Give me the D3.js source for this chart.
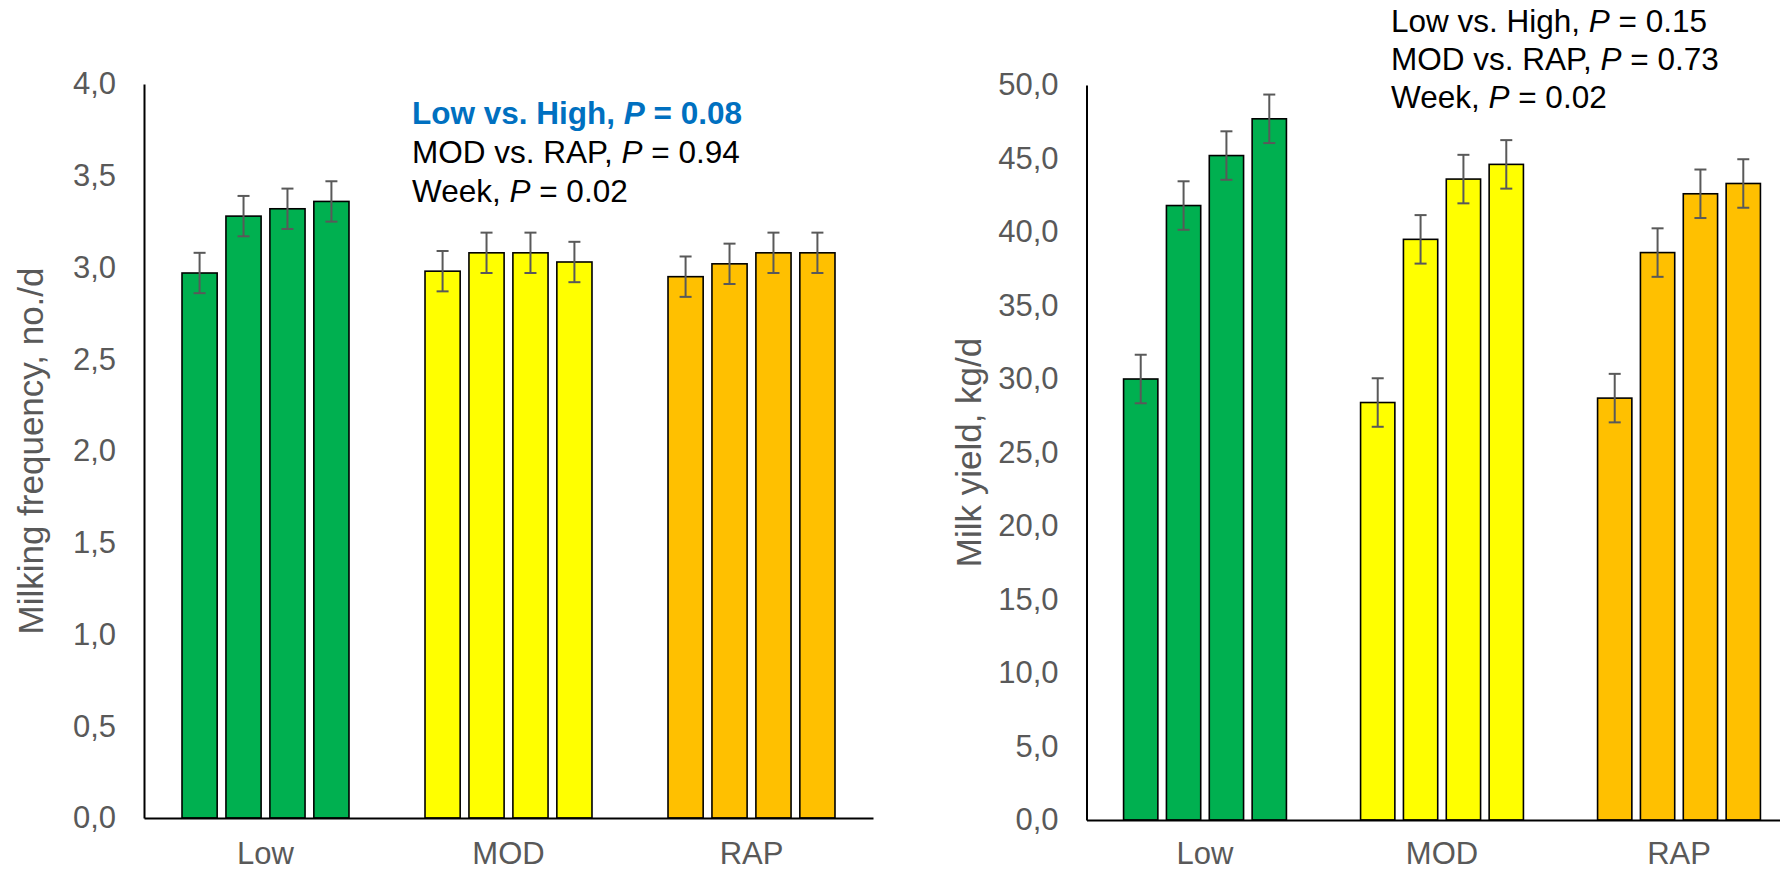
<!DOCTYPE html>
<html>
<head>
<meta charset="utf-8">
<script src="https://cdn.jsdelivr.net/npm/d3@7"></script>
<style>
  html, body { margin: 0; padding: 0; background: #fff; }
  svg { display: block; font-family: "Liberation Sans", Arial, sans-serif; }
</style>
</head>
<body>
<svg id="chart" width="1780" height="872"></svg>
<script>
// Treatment groups along the x axis
const categories = ["Low", "MOD", "RAP"];
const weekIdx = [0, 1, 2, 3];
const groupColors = ["#00B050", "#FFFF00", "#FFC000"];

// Milking frequency (no./d), weeks 1-4 per group
const freqLow = [2.97, 3.28, 3.32, 3.36];
const freqMOD = [2.98, 3.08, 3.08, 3.03];
const freqRAP = [2.95, 3.02, 3.08, 3.08];
const freqSE  = [0.11, 0.11, 0.11, 0.11];
const freqTicks = [0, 0.5, 1, 1.5, 2, 2.5, 3, 3.5, 4];

// Milk yield (kg/d), weeks 1-4 per group
const yieldLow = [30.0, 41.8, 45.2, 47.7];
const yieldMOD = [28.4, 39.5, 43.6, 44.6];
const yieldRAP = [28.7, 38.6, 42.6, 43.3];
const yieldSE  = [1.65, 1.65, 1.65, 1.65];
const yieldTicks = [0, 5, 10, 15, 20, 25, 30, 35, 40, 45, 50];

// Statistical contrasts printed above each panel
const freqStats = [
  { label: "Low vs. High, ", p: "0.08", bold: true, color: "#0070C0" },
  { label: "MOD vs. RAP, ", p: "0.94", bold: false, color: "#000" },
  { label: "Week, ", p: "0.02", bold: false, color: "#000" }
];
const yieldStats = [
  { label: "Low vs. High, ", p: "0.15", bold: false, color: "#000" },
  { label: "MOD vs. RAP, ", p: "0.73", bold: false, color: "#000" },
  { label: "Week, ", p: "0.02", bold: false, color: "#000" }
];

const commaLocale = d3.formatLocale({ decimal: ",", thousands: ".", grouping: [3], currency: ["", ""] });
const fmt1 = commaLocale.format(".1f");

const svg = d3.select("#chart");

function panel(opts) {
  const g = svg.append("g");
  const x = d3.scaleBand().domain(categories).range([opts.left, opts.right]).padding(0);
  const xi = d3.scaleBand().domain(weekIdx).range([0, x.bandwidth()])
    .paddingInner(0.2).paddingOuter(0.865);
  const y = d3.scaleLinear().domain([0, opts.max]).range([opts.bottom, opts.top]);

  const rows = [];
  categories.forEach((c, ci) => {
    opts.values[ci].forEach((v, wi) => rows.push({ c, ci, wi, v, se: opts.se[wi] }));
  });

  // bars
  g.selectAll("rect.bar").data(rows).join("rect")
    .attr("class", "bar")
    .attr("x", d => x(d.c) + xi(d.wi))
    .attr("width", xi.bandwidth())
    .attr("y", d => y(d.v))
    .attr("height", d => y(0) - y(d.v))
    .attr("fill", d => groupColors[d.ci])
    .attr("stroke", "#000")
    .attr("stroke-width", 1.6);

  // error bars
  const cap = 6;
  const cx = d => x(d.c) + xi(d.wi) + xi.bandwidth() / 2;
  const eb = g.selectAll("g.err").data(rows).join("g").attr("class", "err")
    .attr("stroke", "#595959").attr("stroke-width", 2);
  eb.append("line")
    .attr("x1", cx).attr("x2", cx)
    .attr("y1", d => y(d.v + d.se)).attr("y2", d => y(d.v - d.se));
  eb.append("line")
    .attr("x1", d => cx(d) - cap).attr("x2", d => cx(d) + cap)
    .attr("y1", d => y(d.v + d.se)).attr("y2", d => y(d.v + d.se));
  eb.append("line")
    .attr("x1", d => cx(d) - cap).attr("x2", d => cx(d) + cap)
    .attr("y1", d => y(d.v - d.se)).attr("y2", d => y(d.v - d.se));

  // y axis
  const ya = g.append("g").attr("transform", `translate(${opts.left},0)`)
    .call(d3.axisLeft(y).tickValues(opts.ticks).tickFormat(fmt1).tickSize(0).tickPadding(28));
  ya.select(".domain").attr("stroke", "#000").attr("stroke-width", 2);
  ya.selectAll("text").attr("font-size", 31).attr("fill", "#595959")
    .attr("font-family", "'Liberation Sans', Arial, sans-serif");

  // x axis
  const xa = g.append("g").attr("transform", `translate(0,${opts.bottom})`)
    .call(d3.axisBottom(x).tickSize(0).tickPadding(opts.catPad));
  xa.select(".domain").attr("stroke", "#000").attr("stroke-width", 2);
  xa.selectAll("text").attr("font-size", 31).attr("fill", "#595959")
    .attr("font-family", "'Liberation Sans', Arial, sans-serif");

  // y title
  g.append("text")
    .attr("transform", `translate(${opts.titleX},${(opts.top + opts.bottom) / 2}) rotate(-90)`)
    .attr("text-anchor", "middle")
    .attr("font-size", 35).attr("fill", "#595959")
    .text(opts.title);

  // statistics block
  const st = g.append("g").attr("font-size", 31.5);
  opts.stats.forEach((s, i) => {
    const t = st.append("text")
      .attr("x", opts.statX).attr("y", opts.statY + i * opts.statGap)
      .attr("fill", s.color)
      .attr("font-weight", s.bold ? "bold" : "normal");
    t.append("tspan").text(s.label);
    t.append("tspan").attr("font-style", "italic").text("P");
    t.append("tspan").text(" = " + s.p);
  });
}

panel({
  left: 144, right: 873, top: 84, bottom: 818, max: 4,
  values: [freqLow, freqMOD, freqRAP], se: freqSE, ticks: freqTicks,
  title: "Milking frequency, no./d", titleX: 43, catPad: 24,
  stats: freqStats, statX: 412, statY: 124, statGap: 39
});

panel({
  left: 1086.5, right: 1797.5, top: 85, bottom: 820, max: 50,
  values: [yieldLow, yieldMOD, yieldRAP], se: yieldSE, ticks: yieldTicks,
  title: "Milk yield, kg/d", titleX: 981, catPad: 22,
  stats: yieldStats, statX: 1391, statY: 32, statGap: 38
});
</script>
</body>
</html>
